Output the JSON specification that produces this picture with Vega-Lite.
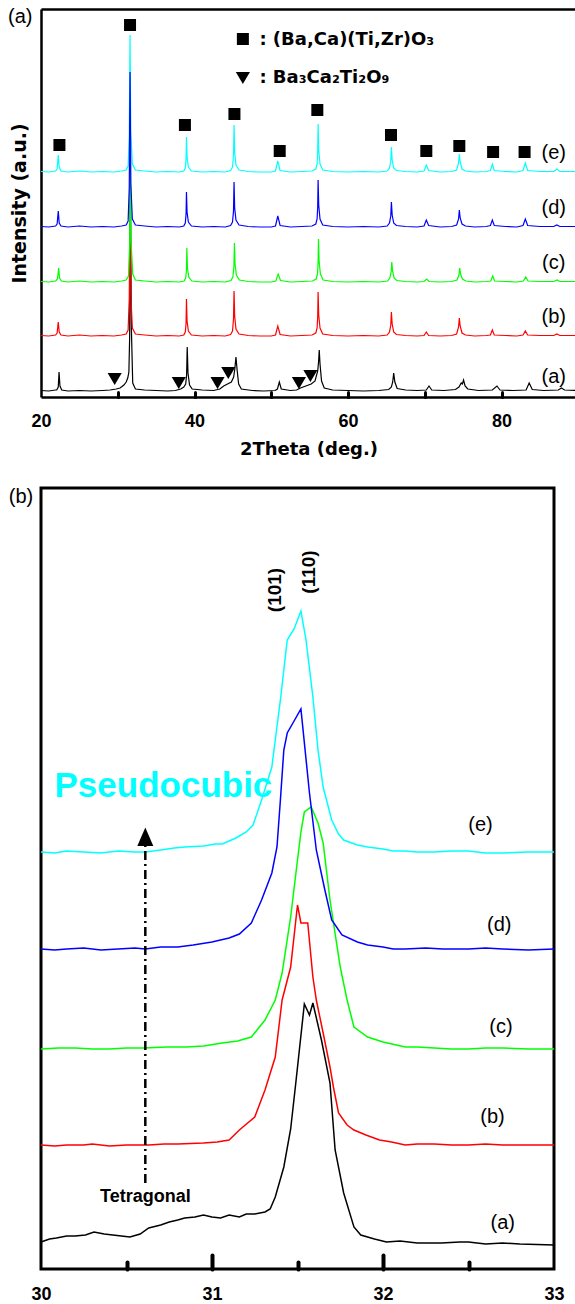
{
"$schema": "https://vega.github.io/schema/vega-lite/v6.json",
"background": "white",
"padding": {"left": 7, "top": 7, "right": 0, "bottom": 0},
"spacing": 27,
"config": {"view": {"stroke": null}, "axis": {"grid": false, "domainColor": "black", "tickColor": "black", "labelColor": "black", "titleColor": "black"}},
"datasets": {
"pa": [
{"s":"e","x":20,"y":225.5},{"s":"e","x":21,"y":225},{"s":"e","x":21.9,"y":226},{"s":"e","x":22.1,"y":228},{"s":"e","x":22.25,"y":242},{"s":"e","x":22.37,"y":230},{"s":"e","x":22.6,"y":226},{"s":"e","x":23.5,"y":225},{"s":"e","x":25,"y":226},{"s":"e","x":26.5,"y":225},{"s":"e","x":28,"y":225.5},{"s":"e","x":29.5,"y":225},{"s":"e","x":30.5,"y":226},{"s":"e","x":31.1,"y":227},{"s":"e","x":31.35,"y":231},{"s":"e","x":31.5,"y":262},{"s":"e","x":31.6,"y":362},{"s":"e","x":31.7,"y":266},{"s":"e","x":31.9,"y":233},{"s":"e","x":32.3,"y":227},{"s":"e","x":33.5,"y":226},{"s":"e","x":35,"y":225},{"s":"e","x":36.5,"y":225.5},{"s":"e","x":38,"y":225},{"s":"e","x":38.6,"y":226},{"s":"e","x":38.8,"y":229},{"s":"e","x":38.9,"y":238},{"s":"e","x":38.95,"y":260},{"s":"e","x":39.03,"y":240},{"s":"e","x":39.2,"y":230},{"s":"e","x":39.6,"y":226},{"s":"e","x":41,"y":225},{"s":"e","x":42.5,"y":225.5},{"s":"e","x":44,"y":225},{"s":"e","x":44.7,"y":226.5},{"s":"e","x":44.95,"y":230},{"s":"e","x":45.08,"y":242},{"s":"e","x":45.15,"y":272},{"s":"e","x":45.23,"y":245},{"s":"e","x":45.4,"y":232},{"s":"e","x":45.8,"y":227},{"s":"e","x":47,"y":225.5},{"s":"e","x":48.5,"y":225},{"s":"e","x":50,"y":225},{"s":"e","x":50.55,"y":226},{"s":"e","x":50.85,"y":236},{"s":"e","x":51.15,"y":226.5},{"s":"e","x":52.5,"y":225},{"s":"e","x":54,"y":225.5},{"s":"e","x":55.3,"y":226},{"s":"e","x":55.8,"y":228},{"s":"e","x":55.97,"y":233},{"s":"e","x":56.05,"y":245},{"s":"e","x":56.1,"y":273},{"s":"e","x":56.18,"y":247},{"s":"e","x":56.35,"y":233},{"s":"e","x":56.7,"y":227},{"s":"e","x":58,"y":225.5},{"s":"e","x":60,"y":225},{"s":"e","x":62,"y":225.5},{"s":"e","x":64,"y":225},{"s":"e","x":65.1,"y":226},{"s":"e","x":65.4,"y":229},{"s":"e","x":65.57,"y":236},{"s":"e","x":65.65,"y":250},{"s":"e","x":65.75,"y":237},{"s":"e","x":65.95,"y":229},{"s":"e","x":66.3,"y":226.5},{"s":"e","x":67.5,"y":225.5},{"s":"e","x":69,"y":225},{"s":"e","x":69.9,"y":226},{"s":"e","x":70.2,"y":232},{"s":"e","x":70.5,"y":226.5},{"s":"e","x":72,"y":225},{"s":"e","x":73.5,"y":225.5},{"s":"e","x":74.15,"y":227},{"s":"e","x":74.4,"y":234},{"s":"e","x":74.5,"y":243},{"s":"e","x":74.61,"y":235},{"s":"e","x":74.85,"y":228},{"s":"e","x":75.3,"y":226},{"s":"e","x":76.5,"y":225},{"s":"e","x":78,"y":225.5},{"s":"e","x":78.55,"y":226.5},{"s":"e","x":78.8,"y":233},{"s":"e","x":79.05,"y":226.5},{"s":"e","x":80.5,"y":225.5},{"s":"e","x":82,"y":225},{"s":"e","x":82.8,"y":226.5},{"s":"e","x":83.1,"y":234},{"s":"e","x":83.4,"y":226.5},{"s":"e","x":85,"y":225.5},{"s":"e","x":86.8,"y":225.5},{"s":"e","x":87.2,"y":228},{"s":"e","x":87.6,"y":225.5},{"s":"e","x":89.7,"y":225.5},
{"s":"a","x":20,"y":6.5},{"s":"a","x":21,"y":6},{"s":"a","x":21.9,"y":7},{"s":"a","x":22.05,"y":7},{"s":"a","x":22.25,"y":10},{"s":"a","x":22.35,"y":25},{"s":"a","x":22.47,"y":11},{"s":"a","x":22.7,"y":7},{"s":"a","x":23.5,"y":6},{"s":"a","x":25,"y":6.5},{"s":"a","x":26.5,"y":6},{"s":"a","x":28,"y":6.5},{"s":"a","x":29,"y":7},{"s":"a","x":29.8,"y":8},{"s":"a","x":30.3,"y":9},{"s":"a","x":30.8,"y":12},{"s":"a","x":31.1,"y":15},{"s":"a","x":31.3,"y":19},{"s":"a","x":31.45,"y":25},{"s":"a","x":31.55,"y":60},{"s":"a","x":31.65,"y":211},{"s":"a","x":31.77,"y":70},{"s":"a","x":31.95,"y":14},{"s":"a","x":32.3,"y":8},{"s":"a","x":33.5,"y":7},{"s":"a","x":35,"y":6.5},{"s":"a","x":36.5,"y":6},{"s":"a","x":37.5,"y":6.5},{"s":"a","x":38.2,"y":8},{"s":"a","x":38.6,"y":10},{"s":"a","x":38.85,"y":13},{"s":"a","x":38.97,"y":22},{"s":"a","x":39.05,"y":50},{"s":"a","x":39.15,"y":24},{"s":"a","x":39.35,"y":12},{"s":"a","x":39.7,"y":8},{"s":"a","x":41,"y":7},{"s":"a","x":42.5,"y":6.5},{"s":"a","x":43.3,"y":8},{"s":"a","x":43.8,"y":11},{"s":"a","x":44.3,"y":13},{"s":"a","x":44.8,"y":15},{"s":"a","x":45.1,"y":20},{"s":"a","x":45.25,"y":28},{"s":"a","x":45.4,"y":40},{"s":"a","x":45.55,"y":27},{"s":"a","x":45.75,"y":13},{"s":"a","x":46.1,"y":8},{"s":"a","x":47.5,"y":6.5},{"s":"a","x":49,"y":6},{"s":"a","x":50.5,"y":6.5},{"s":"a","x":50.8,"y":8},{"s":"a","x":51.05,"y":15},{"s":"a","x":51.3,"y":8},{"s":"a","x":52.5,"y":6.5},{"s":"a","x":53.3,"y":7},{"s":"a","x":53.8,"y":9},{"s":"a","x":54.5,"y":11},{"s":"a","x":55.2,"y":13},{"s":"a","x":55.7,"y":16},{"s":"a","x":56.05,"y":26},{"s":"a","x":56.17,"y":36},{"s":"a","x":56.25,"y":47},{"s":"a","x":56.35,"y":33},{"s":"a","x":56.55,"y":16},{"s":"a","x":56.9,"y":9},{"s":"a","x":58,"y":7},{"s":"a","x":60,"y":6.5},{"s":"a","x":62,"y":6},{"s":"a","x":64,"y":6.5},{"s":"a","x":65.3,"y":7.5},{"s":"a","x":65.65,"y":10},{"s":"a","x":65.82,"y":15},{"s":"a","x":65.95,"y":24},{"s":"a","x":66.1,"y":15},{"s":"a","x":66.4,"y":8.5},{"s":"a","x":67.5,"y":7},{"s":"a","x":69,"y":6.5},{"s":"a","x":70.2,"y":7},{"s":"a","x":70.55,"y":11},{"s":"a","x":70.9,"y":7},{"s":"a","x":72.5,"y":6.5},{"s":"a","x":74,"y":7.5},{"s":"a","x":74.45,"y":10},{"s":"a","x":74.75,"y":14},{"s":"a","x":74.9,"y":13},{"s":"a","x":75.05,"y":17},{"s":"a","x":75.25,"y":11},{"s":"a","x":75.6,"y":8},{"s":"a","x":77,"y":6.5},{"s":"a","x":78.8,"y":7},{"s":"a","x":79.4,"y":11},{"s":"a","x":79.8,"y":7},{"s":"a","x":81.5,"y":6.5},{"s":"a","x":83.2,"y":7},{"s":"a","x":83.6,"y":14},{"s":"a","x":84,"y":7.5},{"s":"a","x":85.5,"y":6.5},{"s":"a","x":87.4,"y":7},{"s":"a","x":87.8,"y":9},{"s":"a","x":88.2,"y":7},{"s":"a","x":89.7,"y":6.5},
{"s":"b","x":20,"y":61.5},{"s":"b","x":21,"y":61},{"s":"b","x":21.9,"y":62},{"s":"b","x":22.1,"y":64},{"s":"b","x":22.25,"y":75},{"s":"b","x":22.37,"y":65},{"s":"b","x":22.6,"y":62},{"s":"b","x":23.5,"y":61},{"s":"b","x":25,"y":62},{"s":"b","x":26.5,"y":61},{"s":"b","x":28,"y":61.5},{"s":"b","x":29.5,"y":61},{"s":"b","x":30.5,"y":62},{"s":"b","x":31.1,"y":63},{"s":"b","x":31.35,"y":67},{"s":"b","x":31.5,"y":99},{"s":"b","x":31.6,"y":211},{"s":"b","x":31.7,"y":103},{"s":"b","x":31.9,"y":69},{"s":"b","x":32.3,"y":63},{"s":"b","x":33.5,"y":62},{"s":"b","x":35,"y":61},{"s":"b","x":36.5,"y":61.5},{"s":"b","x":38,"y":61},{"s":"b","x":38.6,"y":62},{"s":"b","x":38.8,"y":65},{"s":"b","x":38.9,"y":74},{"s":"b","x":38.95,"y":98},{"s":"b","x":39.03,"y":76},{"s":"b","x":39.2,"y":66},{"s":"b","x":39.6,"y":62},{"s":"b","x":41,"y":61},{"s":"b","x":42.5,"y":61.5},{"s":"b","x":44,"y":61},{"s":"b","x":44.7,"y":62.5},{"s":"b","x":44.95,"y":66},{"s":"b","x":45.08,"y":78},{"s":"b","x":45.15,"y":106},{"s":"b","x":45.23,"y":81},{"s":"b","x":45.4,"y":68},{"s":"b","x":45.8,"y":63},{"s":"b","x":47,"y":61.5},{"s":"b","x":48.5,"y":61},{"s":"b","x":50,"y":61},{"s":"b","x":50.55,"y":62},{"s":"b","x":50.85,"y":71},{"s":"b","x":51.15,"y":62.5},{"s":"b","x":52.5,"y":61},{"s":"b","x":54,"y":61.5},{"s":"b","x":55.3,"y":62},{"s":"b","x":55.8,"y":64},{"s":"b","x":55.97,"y":69},{"s":"b","x":56.05,"y":80},{"s":"b","x":56.1,"y":105},{"s":"b","x":56.18,"y":82},{"s":"b","x":56.35,"y":69},{"s":"b","x":56.7,"y":63},{"s":"b","x":58,"y":61.5},{"s":"b","x":60,"y":61},{"s":"b","x":62,"y":61.5},{"s":"b","x":64,"y":61},{"s":"b","x":65.1,"y":62},{"s":"b","x":65.4,"y":65},{"s":"b","x":65.57,"y":72},{"s":"b","x":65.65,"y":85},{"s":"b","x":65.75,"y":73},{"s":"b","x":65.95,"y":65},{"s":"b","x":66.3,"y":62.5},{"s":"b","x":67.5,"y":61.5},{"s":"b","x":69,"y":61},{"s":"b","x":69.9,"y":61.5},{"s":"b","x":70.2,"y":65},{"s":"b","x":70.5,"y":61.5},{"s":"b","x":72,"y":61},{"s":"b","x":73.5,"y":61.5},{"s":"b","x":74.15,"y":63},{"s":"b","x":74.4,"y":70},{"s":"b","x":74.5,"y":79},{"s":"b","x":74.61,"y":71},{"s":"b","x":74.85,"y":64},{"s":"b","x":75.3,"y":62},{"s":"b","x":76.5,"y":61},{"s":"b","x":78,"y":61.5},{"s":"b","x":78.55,"y":62},{"s":"b","x":78.8,"y":67},{"s":"b","x":79.05,"y":62},{"s":"b","x":80.5,"y":61.5},{"s":"b","x":82,"y":61},{"s":"b","x":82.8,"y":62},{"s":"b","x":83.1,"y":66},{"s":"b","x":83.4,"y":62},{"s":"b","x":85,"y":61.5},{"s":"b","x":86.8,"y":61.5},{"s":"b","x":87.2,"y":63},{"s":"b","x":87.6,"y":61.5},{"s":"b","x":89.7,"y":61.5},
{"s":"c","x":20,"y":115.5},{"s":"c","x":21,"y":115},{"s":"c","x":21.9,"y":116},{"s":"c","x":22.15,"y":118},{"s":"c","x":22.3,"y":129},{"s":"c","x":22.42,"y":119},{"s":"c","x":22.65,"y":116},{"s":"c","x":23.5,"y":115},{"s":"c","x":25,"y":116},{"s":"c","x":26.5,"y":115},{"s":"c","x":28,"y":115.5},{"s":"c","x":29.5,"y":115},{"s":"c","x":30.5,"y":116},{"s":"c","x":31.1,"y":117},{"s":"c","x":31.4,"y":121},{"s":"c","x":31.55,"y":152},{"s":"c","x":31.63,"y":260},{"s":"c","x":31.73,"y":156},{"s":"c","x":31.95,"y":123},{"s":"c","x":32.3,"y":117},{"s":"c","x":33.5,"y":116},{"s":"c","x":35,"y":115},{"s":"c","x":36.5,"y":115.5},{"s":"c","x":38,"y":115},{"s":"c","x":38.65,"y":116},{"s":"c","x":38.85,"y":119},{"s":"c","x":38.95,"y":127},{"s":"c","x":39,"y":149},{"s":"c","x":39.08,"y":129},{"s":"c","x":39.25,"y":120},{"s":"c","x":39.65,"y":116},{"s":"c","x":41,"y":115},{"s":"c","x":42.5,"y":115.5},{"s":"c","x":44,"y":115},{"s":"c","x":44.75,"y":116.5},{"s":"c","x":45,"y":120},{"s":"c","x":45.13,"y":130},{"s":"c","x":45.2,"y":154},{"s":"c","x":45.28,"y":133},{"s":"c","x":45.45,"y":122},{"s":"c","x":45.85,"y":117},{"s":"c","x":47,"y":115.5},{"s":"c","x":48.5,"y":115},{"s":"c","x":50,"y":115},{"s":"c","x":50.6,"y":116},{"s":"c","x":50.9,"y":123},{"s":"c","x":51.2,"y":116.5},{"s":"c","x":52.5,"y":115},{"s":"c","x":54,"y":115.5},{"s":"c","x":55.35,"y":116},{"s":"c","x":55.85,"y":118},{"s":"c","x":56.02,"y":123},{"s":"c","x":56.1,"y":134},{"s":"c","x":56.15,"y":158},{"s":"c","x":56.23,"y":136},{"s":"c","x":56.4,"y":123},{"s":"c","x":56.75,"y":117},{"s":"c","x":58,"y":115.5},{"s":"c","x":60,"y":115},{"s":"c","x":62,"y":115.5},{"s":"c","x":64,"y":115},{"s":"c","x":65.15,"y":116},{"s":"c","x":65.45,"y":119},{"s":"c","x":65.62,"y":125},{"s":"c","x":65.7,"y":135},{"s":"c","x":65.8,"y":126},{"s":"c","x":66,"y":119},{"s":"c","x":66.35,"y":116.5},{"s":"c","x":67.5,"y":115.5},{"s":"c","x":69,"y":115},{"s":"c","x":69.9,"y":115.5},{"s":"c","x":70.25,"y":118},{"s":"c","x":70.55,"y":115.5},{"s":"c","x":72,"y":115},{"s":"c","x":73.5,"y":115.5},{"s":"c","x":74.2,"y":117},{"s":"c","x":74.45,"y":122},{"s":"c","x":74.55,"y":129},{"s":"c","x":74.66,"y":123},{"s":"c","x":74.9,"y":118},{"s":"c","x":75.35,"y":116},{"s":"c","x":76.5,"y":115},{"s":"c","x":78,"y":115.5},{"s":"c","x":78.6,"y":116},{"s":"c","x":78.85,"y":121},{"s":"c","x":79.1,"y":116},{"s":"c","x":80.5,"y":115.5},{"s":"c","x":82,"y":115},{"s":"c","x":82.85,"y":116},{"s":"c","x":83.15,"y":120},{"s":"c","x":83.45,"y":116},{"s":"c","x":85,"y":115.5},{"s":"c","x":86.8,"y":115.5},{"s":"c","x":87.25,"y":117},{"s":"c","x":87.6,"y":115.5},{"s":"c","x":89.7,"y":115.5},
{"s":"d","x":20,"y":170.5},{"s":"d","x":21,"y":170},{"s":"d","x":21.9,"y":171},{"s":"d","x":22.1,"y":173},{"s":"d","x":22.25,"y":186},{"s":"d","x":22.37,"y":174},{"s":"d","x":22.6,"y":171},{"s":"d","x":23.5,"y":170},{"s":"d","x":25,"y":171},{"s":"d","x":26.5,"y":170},{"s":"d","x":28,"y":170.5},{"s":"d","x":29.5,"y":170},{"s":"d","x":30.5,"y":171},{"s":"d","x":31.1,"y":172},{"s":"d","x":31.35,"y":176},{"s":"d","x":31.5,"y":210},{"s":"d","x":31.6,"y":325},{"s":"d","x":31.7,"y":214},{"s":"d","x":31.9,"y":178},{"s":"d","x":32.3,"y":172},{"s":"d","x":33.5,"y":171},{"s":"d","x":35,"y":170},{"s":"d","x":36.5,"y":170.5},{"s":"d","x":38,"y":170},{"s":"d","x":38.6,"y":171},{"s":"d","x":38.8,"y":174},{"s":"d","x":38.9,"y":183},{"s":"d","x":38.95,"y":205},{"s":"d","x":39.03,"y":185},{"s":"d","x":39.2,"y":175},{"s":"d","x":39.6,"y":171},{"s":"d","x":41,"y":170},{"s":"d","x":42.5,"y":170.5},{"s":"d","x":44,"y":170},{"s":"d","x":44.7,"y":171.5},{"s":"d","x":44.95,"y":175},{"s":"d","x":45.08,"y":186},{"s":"d","x":45.15,"y":215},{"s":"d","x":45.23,"y":189},{"s":"d","x":45.4,"y":177},{"s":"d","x":45.8,"y":172},{"s":"d","x":47,"y":170.5},{"s":"d","x":48.5,"y":170},{"s":"d","x":50,"y":170},{"s":"d","x":50.55,"y":171},{"s":"d","x":50.85,"y":181},{"s":"d","x":51.15,"y":171.5},{"s":"d","x":52.5,"y":170},{"s":"d","x":54,"y":170.5},{"s":"d","x":55.3,"y":171},{"s":"d","x":55.8,"y":173},{"s":"d","x":55.97,"y":178},{"s":"d","x":56.05,"y":190},{"s":"d","x":56.1,"y":217},{"s":"d","x":56.18,"y":192},{"s":"d","x":56.35,"y":178},{"s":"d","x":56.7,"y":172},{"s":"d","x":58,"y":170.5},{"s":"d","x":60,"y":170},{"s":"d","x":62,"y":170.5},{"s":"d","x":64,"y":170},{"s":"d","x":65.1,"y":171},{"s":"d","x":65.4,"y":174},{"s":"d","x":65.57,"y":181},{"s":"d","x":65.65,"y":195},{"s":"d","x":65.75,"y":182},{"s":"d","x":65.95,"y":174},{"s":"d","x":66.3,"y":171.5},{"s":"d","x":67.5,"y":170.5},{"s":"d","x":69,"y":170},{"s":"d","x":69.9,"y":171},{"s":"d","x":70.2,"y":177},{"s":"d","x":70.5,"y":171.5},{"s":"d","x":72,"y":170},{"s":"d","x":73.5,"y":170.5},{"s":"d","x":74.15,"y":172},{"s":"d","x":74.4,"y":178},{"s":"d","x":74.5,"y":187},{"s":"d","x":74.61,"y":179},{"s":"d","x":74.85,"y":173},{"s":"d","x":75.3,"y":171},{"s":"d","x":76.5,"y":170},{"s":"d","x":78,"y":170.5},{"s":"d","x":78.55,"y":171.5},{"s":"d","x":78.8,"y":177},{"s":"d","x":79.05,"y":171.5},{"s":"d","x":80.5,"y":170.5},{"s":"d","x":82,"y":170},{"s":"d","x":82.8,"y":171.5},{"s":"d","x":83.1,"y":178},{"s":"d","x":83.4,"y":171.5},{"s":"d","x":85,"y":170.5},{"s":"d","x":86.8,"y":170.5},{"s":"d","x":87.2,"y":172},{"s":"d","x":87.6,"y":170.5},{"s":"d","x":89.7,"y":170.5}
],
"sq": [{"x":22.4,"y":252},{"x":31.6,"y":372},{"x":38.75,"y":272},{"x":45.2,"y":283},{"x":51.1,"y":246},{"x":56.0,"y":287},{"x":65.6,"y":262},{"x":70.2,"y":246},{"x":74.5,"y":251},{"x":78.9,"y":245},{"x":83.0,"y":245},{"x":46.3,"y":358}],
"tri": [{"x":29.6,"y":18},{"x":37.95,"y":14},{"x":43.0,"y":14},{"x":44.4,"y":24},{"x":53.6,"y":14},{"x":55.1,"y":21},{"x":46.3,"y":319}],
"ta": [{"x":86.8,"y":244,"t":"(e)"},{"x":86.8,"y":189,"t":"(d)"},{"x":86.8,"y":134,"t":"(c)"},{"x":86.8,"y":80,"t":"(b)"},{"x":86.8,"y":20,"t":"(a)"},{"x":17.3,"y":380,"t":"(a)"}],
"leg": [{"x":48.45,"y":357,"t":": (Ba,Ca)(Ti,Zr)O₃"},{"x":48.45,"y":319,"t":": Ba₃Ca₂Ti₂O₉"}],
"pb": [
{"s":"e","x":30,"y":417},{"s":"e","x":30.08,"y":416},{"s":"e","x":30.15,"y":418},{"s":"e","x":30.25,"y":417},{"s":"e","x":30.35,"y":416},{"s":"e","x":30.45,"y":418},{"s":"e","x":30.55,"y":417},{"s":"e","x":30.61,"y":417},{"s":"e","x":30.7,"y":419},{"s":"e","x":30.78,"y":421},{"s":"e","x":30.84,"y":422},{"s":"e","x":30.95,"y":423},{"s":"e","x":31.02,"y":425},{"s":"e","x":31.06,"y":425},{"s":"e","x":31.1,"y":428},{"s":"e","x":31.14,"y":431},{"s":"e","x":31.2,"y":437},{"s":"e","x":31.24,"y":444},{"s":"e","x":31.29,"y":469},{"s":"e","x":31.35,"y":502},{"s":"e","x":31.37,"y":529},{"s":"e","x":31.4,"y":569},{"s":"e","x":31.44,"y":629},{"s":"e","x":31.48,"y":640},{"s":"e","x":31.52,"y":658},{"s":"e","x":31.55,"y":629},{"s":"e","x":31.59,"y":572},{"s":"e","x":31.62,"y":519},{"s":"e","x":31.65,"y":482},{"s":"e","x":31.7,"y":449},{"s":"e","x":31.74,"y":435},{"s":"e","x":31.77,"y":429},{"s":"e","x":31.85,"y":424},{"s":"e","x":31.91,"y":422},{"s":"e","x":32.0,"y":420},{"s":"e","x":32.06,"y":418},{"s":"e","x":32.13,"y":418},{"s":"e","x":32.2,"y":417},{"s":"e","x":32.3,"y":417},{"s":"e","x":32.4,"y":418},{"s":"e","x":32.5,"y":418},{"s":"e","x":32.6,"y":416},{"s":"e","x":32.7,"y":416},{"s":"e","x":32.85,"y":417},{"s":"e","x":33,"y":417},
{"s":"a","x":30,"y":27},{"s":"a","x":30.05,"y":30},{"s":"a","x":30.09,"y":31},{"s":"a","x":30.15,"y":33},{"s":"a","x":30.2,"y":33},{"s":"a","x":30.26,"y":34},{"s":"a","x":30.31,"y":37},{"s":"a","x":30.37,"y":35},{"s":"a","x":30.42,"y":34},{"s":"a","x":30.47,"y":33},{"s":"a","x":30.52,"y":32},{"s":"a","x":30.58,"y":35},{"s":"a","x":30.63,"y":41},{"s":"a","x":30.7,"y":44},{"s":"a","x":30.75,"y":47},{"s":"a","x":30.8,"y":49},{"s":"a","x":30.84,"y":51},{"s":"a","x":30.9,"y":52},{"s":"a","x":30.95,"y":54},{"s":"a","x":31.0,"y":52},{"s":"a","x":31.05,"y":51},{"s":"a","x":31.1,"y":54},{"s":"a","x":31.16,"y":52},{"s":"a","x":31.2,"y":55},{"s":"a","x":31.25,"y":55},{"s":"a","x":31.31,"y":57},{"s":"a","x":31.34,"y":60},{"s":"a","x":31.37,"y":72},{"s":"a","x":31.42,"y":102},{"s":"a","x":31.46,"y":140},{"s":"a","x":31.49,"y":186},{"s":"a","x":31.54,"y":265},{"s":"a","x":31.57,"y":254},{"s":"a","x":31.59,"y":266},{"s":"a","x":31.64,"y":229},{"s":"a","x":31.69,"y":186},{"s":"a","x":31.72,"y":119},{"s":"a","x":31.77,"y":76},{"s":"a","x":31.83,"y":42},{"s":"a","x":31.87,"y":34},{"s":"a","x":31.95,"y":30},{"s":"a","x":32.02,"y":27},{"s":"a","x":32.1,"y":28},{"s":"a","x":32.2,"y":26},{"s":"a","x":32.34,"y":26},{"s":"a","x":32.45,"y":27},{"s":"a","x":32.5,"y":27},{"s":"a","x":32.6,"y":25},{"s":"a","x":32.7,"y":26},{"s":"a","x":32.8,"y":25},{"s":"a","x":33,"y":24},
{"s":"b","x":30,"y":124},{"s":"b","x":30.08,"y":123},{"s":"b","x":30.15,"y":124},{"s":"b","x":30.25,"y":124},{"s":"b","x":30.3,"y":125},{"s":"b","x":30.4,"y":123},{"s":"b","x":30.5,"y":124},{"s":"b","x":30.63,"y":124},{"s":"b","x":30.72,"y":125},{"s":"b","x":30.8,"y":125},{"s":"b","x":30.95,"y":126},{"s":"b","x":31.03,"y":127},{"s":"b","x":31.1,"y":129},{"s":"b","x":31.16,"y":139},{"s":"b","x":31.25,"y":152},{"s":"b","x":31.31,"y":179},{"s":"b","x":31.37,"y":212},{"s":"b","x":31.41,"y":269},{"s":"b","x":31.46,"y":302},{"s":"b","x":31.5,"y":364},{"s":"b","x":31.52,"y":346},{"s":"b","x":31.56,"y":346},{"s":"b","x":31.59,"y":292},{"s":"b","x":31.61,"y":269},{"s":"b","x":31.65,"y":236},{"s":"b","x":31.69,"y":202},{"s":"b","x":31.71,"y":182},{"s":"b","x":31.74,"y":156},{"s":"b","x":31.79,"y":144},{"s":"b","x":31.83,"y":139},{"s":"b","x":31.9,"y":134},{"s":"b","x":31.98,"y":129},{"s":"b","x":32.05,"y":127},{"s":"b","x":32.13,"y":124},{"s":"b","x":32.2,"y":125},{"s":"b","x":32.3,"y":125},{"s":"b","x":32.4,"y":124},{"s":"b","x":32.5,"y":124},{"s":"b","x":32.6,"y":125},{"s":"b","x":32.7,"y":124},{"s":"b","x":32.85,"y":124},{"s":"b","x":33,"y":124},
{"s":"c","x":30,"y":220},{"s":"c","x":30.1,"y":221},{"s":"c","x":30.2,"y":221},{"s":"c","x":30.3,"y":220},{"s":"c","x":30.4,"y":220},{"s":"c","x":30.5,"y":221},{"s":"c","x":30.6,"y":221},{"s":"c","x":30.74,"y":222},{"s":"c","x":30.85,"y":222},{"s":"c","x":30.95,"y":223},{"s":"c","x":31.06,"y":226},{"s":"c","x":31.15,"y":228},{"s":"c","x":31.23,"y":232},{"s":"c","x":31.31,"y":249},{"s":"c","x":31.37,"y":269},{"s":"c","x":31.41,"y":296},{"s":"c","x":31.46,"y":352},{"s":"c","x":31.5,"y":409},{"s":"c","x":31.52,"y":437},{"s":"c","x":31.54,"y":457},{"s":"c","x":31.58,"y":462},{"s":"c","x":31.62,"y":446},{"s":"c","x":31.65,"y":426},{"s":"c","x":31.69,"y":369},{"s":"c","x":31.75,"y":302},{"s":"c","x":31.79,"y":269},{"s":"c","x":31.83,"y":242},{"s":"c","x":31.91,"y":232},{"s":"c","x":32.0,"y":227},{"s":"c","x":32.13,"y":222},{"s":"c","x":32.2,"y":222},{"s":"c","x":32.3,"y":221},{"s":"c","x":32.4,"y":220},{"s":"c","x":32.5,"y":220},{"s":"c","x":32.6,"y":221},{"s":"c","x":32.7,"y":221},{"s":"c","x":32.85,"y":220},{"s":"c","x":33,"y":220},
{"s":"d","x":30,"y":320},{"s":"d","x":30.08,"y":319},{"s":"d","x":30.15,"y":320},{"s":"d","x":30.25,"y":321},{"s":"d","x":30.35,"y":319},{"s":"d","x":30.45,"y":320},{"s":"d","x":30.55,"y":321},{"s":"d","x":30.61,"y":320},{"s":"d","x":30.7,"y":322},{"s":"d","x":30.8,"y":322},{"s":"d","x":30.89,"y":324},{"s":"d","x":31.0,"y":327},{"s":"d","x":31.1,"y":331},{"s":"d","x":31.16,"y":335},{"s":"d","x":31.23,"y":346},{"s":"d","x":31.29,"y":369},{"s":"d","x":31.35,"y":396},{"s":"d","x":31.38,"y":422},{"s":"d","x":31.4,"y":469},{"s":"d","x":31.42,"y":519},{"s":"d","x":31.44,"y":536},{"s":"d","x":31.48,"y":548},{"s":"d","x":31.52,"y":560},{"s":"d","x":31.57,"y":476},{"s":"d","x":31.61,"y":419},{"s":"d","x":31.66,"y":379},{"s":"d","x":31.7,"y":349},{"s":"d","x":31.76,"y":334},{"s":"d","x":31.85,"y":327},{"s":"d","x":31.91,"y":324},{"s":"d","x":32.0,"y":322},{"s":"d","x":32.06,"y":320},{"s":"d","x":32.13,"y":320},{"s":"d","x":32.25,"y":321},{"s":"d","x":32.35,"y":320},{"s":"d","x":32.5,"y":320},{"s":"d","x":32.6,"y":321},{"s":"d","x":32.7,"y":320},{"s":"d","x":32.85,"y":319},{"s":"d","x":33,"y":320}
],
"tb": [{"x":32.57,"y":444,"t":"(e)"},{"x":32.68,"y":344,"t":"(d)"},{"x":32.69,"y":242,"t":"(c)"},{"x":32.64,"y":152,"t":"(b)"},{"x":32.70,"y":46,"t":"(a)"},{"x":29.883,"y":772,"t":"(b)"}],
"hkl": [{"x":31.37,"y":679,"t":"(101)"},{"x":31.57,"y":697,"t":"(110)"}],
"pseudo": [{"x":30.079,"y":472,"t":"Pseudocubic"}],
"tet": [{"x":30.61,"y":72,"t":"Tetragonal"}],
"arrow": [{"x":30.61,"y":86,"y2":424}],
"head": [{"x":30.61,"y":431}]
},
"vconcat": [
{
"width": 535, "height": 388,
"layer": [
{
"data": {"name": "pa"},
"mark": {"type": "line", "strokeWidth": 1.2},
"encoding": {
"x": {"field": "x", "type": "quantitative", "scale": {"domain": [20, 89.7], "nice": false, "zero": false},
"axis": {"orient": "bottom", "values": [20, 40, 60, 80], "ticks": false, "domain": true, "domainWidth": 2.5, "labelFont": "Liberation Sans", "labelFontWeight": "bold", "labelFontSize": 18, "labelPadding": 15, "labelFlush": false, "title": "2Theta (deg.)", "titleFont": "DejaVu Sans", "titleFontWeight": "bold", "titleFontSize": 18, "titlePadding": 10}},
"y": {"field": "y", "type": "quantitative", "scale": {"domain": [0, 388], "nice": false, "zero": false},
"axis": {"ticks": false, "labels": false, "domain": true, "domainWidth": 2.5, "title": "Intensity (a.u.)", "titleFont": "DejaVu Sans", "titleFontWeight": "bold", "titleFontSize": 19, "titlePadding": 12}},
"color": {"field": "s", "type": "nominal", "scale": {"domain": ["a", "b", "c", "d", "e"], "range": ["#000000", "#FF0000", "#00FF00", "#0000FF", "#00FFFF"]}, "legend": null}
}
},
{
"data": {"name": "sq"},
"mark": {"type": "point", "shape": "square", "filled": true, "size": 144, "color": "black", "opacity": 1},
"encoding": {
"x": {"field": "x", "type": "quantitative", "axis": {"orient": "bottom", "values": [30, 40, 50, 60, 70, 80], "ticks": true, "tickSize": -5, "tickWidth": 3, "tickCap": "round", "labels": false, "domain": false, "title": null}},
"y": {"field": "y", "type": "quantitative", "axis": null}
}
},
{
"data": {"name": "tri"},
"mark": {"type": "point", "shape": "triangle-down", "filled": true, "size": 200, "color": "black", "opacity": 1},
"encoding": {
"x": {"field": "x", "type": "quantitative", "axis": {"orient": "top", "ticks": false, "labels": false, "domain": true, "domainWidth": 2.5, "title": null}},
"y": {"field": "y", "type": "quantitative", "axis": null}
}
},
{
"data": {"name": "ta"},
"mark": {"type": "text", "font": "Liberation Sans", "fontSize": 20, "align": "center", "baseline": "middle", "color": "black", "clip": false},
"encoding": {
"x": {"field": "x", "type": "quantitative", "axis": null},
"y": {"field": "y", "type": "quantitative", "axis": null},
"text": {"field": "t"}
}
},
{
"data": {"name": "leg"},
"mark": {"type": "text", "font": "DejaVu Sans", "fontWeight": "bold", "fontSize": 18, "align": "left", "baseline": "middle", "color": "black"},
"encoding": {
"x": {"field": "x", "type": "quantitative", "axis": null},
"y": {"field": "y", "type": "quantitative", "axis": null},
"text": {"field": "t"}
}
}
],
"resolve": {"axis": {"x": "independent", "y": "independent"}}
},
{
"width": 513, "height": 781,
"view": {"stroke": "black", "strokeWidth": 3},
"layer": [
{
"data": {"name": "pb"},
"mark": {"type": "line", "strokeWidth": 1.5},
"encoding": {
"x": {"field": "x", "type": "quantitative", "scale": {"domain": [30, 33], "nice": false, "zero": false},
"axis": {"orient": "bottom", "values": [30, 31, 32, 33], "ticks": false, "domain": false, "labelFont": "Liberation Sans", "labelFontWeight": "bold", "labelFontSize": 18, "labelPadding": 16, "labelFlush": false, "title": null}},
"y": {"field": "y", "type": "quantitative", "scale": {"domain": [0, 781], "nice": false, "zero": false}, "axis": null},
"color": {"field": "s", "type": "nominal", "scale": {"domain": ["a", "b", "c", "d", "e"], "range": ["#000000", "#FF0000", "#00FF00", "#0000FF", "#00FFFF"]}, "legend": null}
}
},
{
"data": {"name": "arrow"},
"mark": {"type": "rule", "strokeWidth": 2.5, "strokeDash": [9, 4, 2, 4], "color": "black"},
"encoding": {
"x": {"field": "x", "type": "quantitative", "axis": {"orient": "bottom", "values": [31, 32], "ticks": true, "tickSize": -14, "tickWidth": 4, "tickCap": "round", "labels": false, "domain": false, "title": null}},
"y": {"field": "y", "type": "quantitative", "axis": null},
"y2": {"field": "y2"}
}
},
{
"data": {"name": "head"},
"mark": {"type": "point", "shape": "M0,-1.3L1,1L-1,1Z", "filled": true, "size": 256, "color": "black", "opacity": 1},
"encoding": {
"x": {"field": "x", "type": "quantitative", "axis": {"orient": "bottom", "values": [30.5, 31.5, 32.5], "ticks": true, "tickSize": -7, "tickWidth": 4, "tickCap": "round", "labels": false, "domain": false, "title": null}},
"y": {"field": "y", "type": "quantitative", "axis": null}
}
},
{
"data": {"name": "tb"},
"mark": {"type": "text", "font": "Liberation Sans", "fontSize": 20, "align": "center", "baseline": "middle", "color": "black"},
"encoding": {
"x": {"field": "x", "type": "quantitative", "axis": null},
"y": {"field": "y", "type": "quantitative", "axis": null},
"text": {"field": "t"}
}
},
{
"data": {"name": "hkl"},
"mark": {"type": "text", "font": "Liberation Sans", "fontWeight": "bold", "fontSize": 19, "align": "center", "baseline": "middle", "angle": 270, "color": "black"},
"encoding": {
"x": {"field": "x", "type": "quantitative", "axis": null},
"y": {"field": "y", "type": "quantitative", "axis": null},
"text": {"field": "t"}
}
},
{
"data": {"name": "pseudo"},
"mark": {"type": "text", "font": "Liberation Sans", "fontWeight": "bold", "fontSize": 35, "align": "left", "baseline": "alphabetic", "color": "#00FFFF"},
"encoding": {
"x": {"field": "x", "type": "quantitative", "axis": null},
"y": {"field": "y", "type": "quantitative", "axis": null},
"text": {"field": "t"}
}
},
{
"data": {"name": "tet"},
"mark": {"type": "text", "font": "Liberation Sans", "fontWeight": "bold", "fontSize": 18, "align": "center", "baseline": "middle", "color": "black"},
"encoding": {
"x": {"field": "x", "type": "quantitative", "axis": null},
"y": {"field": "y", "type": "quantitative", "axis": null},
"text": {"field": "t"}
}
}
],
"resolve": {"axis": {"x": "independent", "y": "independent"}}
}
]
}
